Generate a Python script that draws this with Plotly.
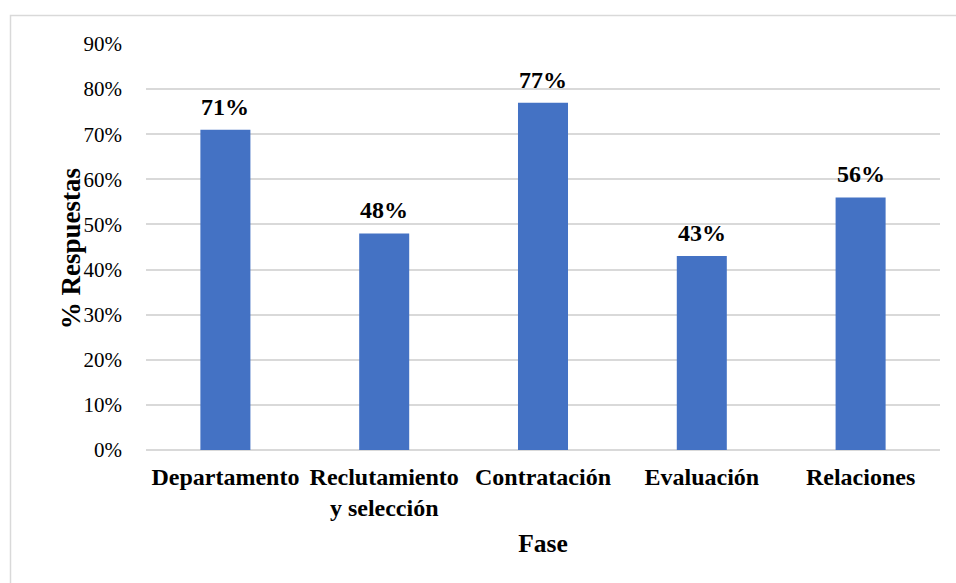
import plotly.graph_objects as go

categories = ["Departamento", "Reclutamiento<br>y selección", "Contratación", "Evaluación", "Relaciones"]
values = [0.71, 0.48, 0.77, 0.43, 0.56]
labels = ["71%", "48%", "77%", "43%", "56%"]
y_ticks = [0, 0.1, 0.2, 0.3, 0.4, 0.5, 0.6, 0.7, 0.8, 0.9]
x_title = "Fase"
y_title = "% Respuestas"

FONT = "'Liberation Serif', 'Times New Roman', serif"

fig = go.Figure()
fig.add_trace(go.Bar(x=categories, y=values, marker=dict(color="#4472C4", line=dict(width=0)),
                     hoverinfo="skip"))

for c, v, t in zip(categories, values, labels):
    fig.add_annotation(x=c, y=v, text=f"<b>{t}</b>", showarrow=False, yanchor="bottom",
                       yshift=8, font=dict(family=FONT, size=24, color="#000000"))

L, T, W, H = 146, 43.5, 956, 583
pw = 940 - L
ph = 450 - T

# y-axis title placed as rotated annotation
fig.add_annotation(xref="paper", yref="paper", x=(71 - L) / pw, y=(450 - 249) / ph,
                   text=f"<b>{y_title}</b>", textangle=-90, showarrow=False,
                   xanchor="center", yanchor="middle",
                   font=dict(family=FONT, size=27, color="#000000"))

fig.add_shape(type="rect", xref="paper", yref="paper",
              x0=(10.5 - L) / pw, x1=(W + 20 - L) / pw,
              y0=(450 - (H + 20)) / ph, y1=(450 - 15) / ph,
              line=dict(color="#d9d9d9", width=1.5), fillcolor="rgba(0,0,0,0)", layer="below")

fig.update_layout(
    width=W, height=H,
    margin=dict(l=L, r=W - 940, t=T, b=H - 450),
    plot_bgcolor="white", paper_bgcolor="white",
    bargap=0.685,
    showlegend=False,
    font=dict(family=FONT, color="#000000"),
    xaxis=dict(
        tickfont=dict(family=FONT, size=24, color="#000000", weight="bold"),
        showgrid=False, showline=False, ticks="", ticklabelstandoff=10,
        title=dict(text=f"<b>{x_title}</b>", font=dict(family=FONT, size=25.5, color="#000000"), standoff=13),
    ),
    yaxis=dict(
        range=[0, 0.9], tickvals=y_ticks, tickformat=".0%",
        tickfont=dict(family=FONT, size=21, color="#000000"),
        showgrid=True, gridcolor="#d9d9d9", gridwidth=1.5,
        zeroline=True, zerolinecolor="#d9d9d9", zerolinewidth=1.5,
        showline=False, ticks="", ticklabelstandoff=23,
    ),
)

fig.write_html("out.html")
